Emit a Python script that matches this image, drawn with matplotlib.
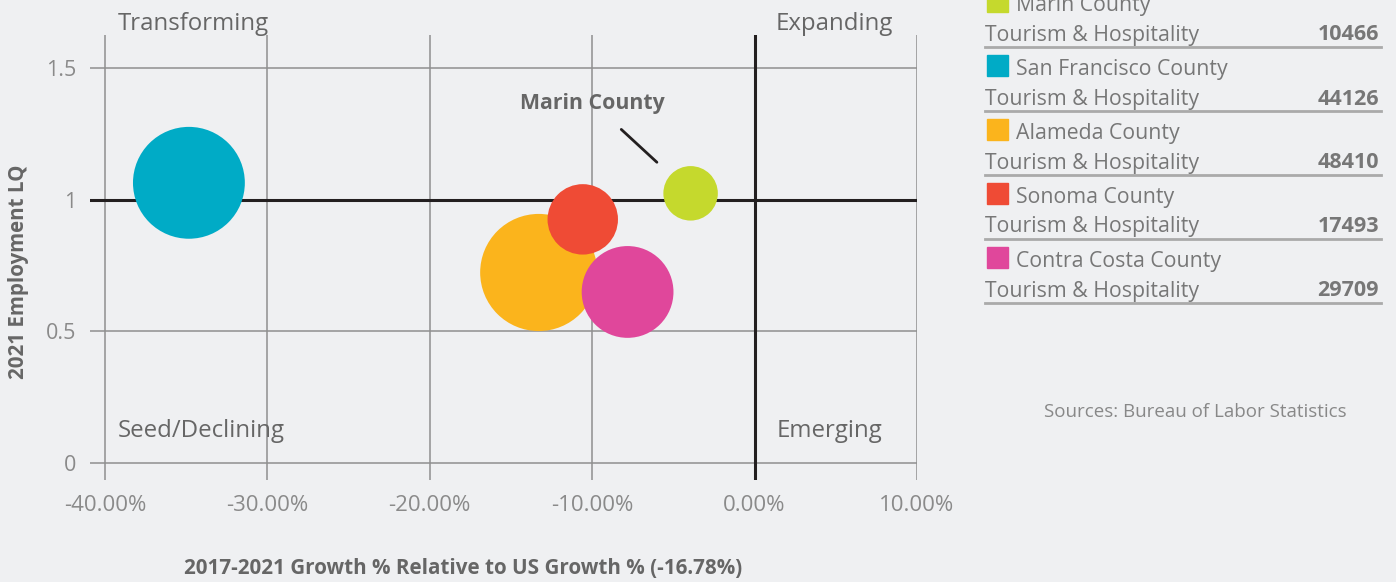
import numpy as np
import matplotlib.pyplot as plt

plt.rcParams['font.family'] = ['Open Sans', 'DejaVu Sans']

# data
counties = ['Marin County', 'San Francisco County', 'Alameda County',
            'Sonoma County', 'Contra Costa County']
industry = 'Tourism & Hospitality'
growth = [-3.94, -34.83, -13.29, -10.58, -7.82]    # % relative to US growth
lq = [1.025, 1.065, 0.724, 0.926, 0.650]           # 2021 employment LQ
employment = [10466, 44126, 48410, 17493, 29709]
colors = ['#c5d92d', '#00abc6', '#fbb41c', '#ef4b35', '#e0479b']

xticks = [-40, -30, -20, -10, 0, 10]
yticks = [0, 0.5, 1, 1.5]
ytick_labels = ['0', '0.5', '1', '1.5']

bg = '#eff0f2'
fig = plt.figure(figsize=(13.96, 5.82), dpi=100, facecolor=bg)
ax = fig.add_axes([90 / 1396, 1 - 480 / 582, 827 / 1396, 445 / 582])
ax.set_facecolor(bg)

ax.set_xlim(-40.92, 10)
ax.set_ylim(-0.065, 1.627)
for s in ax.spines.values():
    s.set_visible(False)

ax.set_xticks(xticks)
ax.set_xticklabels([f'{t:.2f}%' for t in xticks], fontsize=16, color='#8a8a8a')
ax.set_yticks(yticks)
ax.set_yticklabels(ytick_labels, fontsize=15.5, color='#8a8a8a')
ax.tick_params(length=0)
ax.tick_params(axis='x', pad=11)
ax.tick_params(axis='y', pad=10)
ax.grid(True, color='#8f8f8f', linewidth=1.1, zorder=0)
ax.set_axisbelow(True)

# quadrant dividers
ax.axhline(1, color='#231f20', linewidth=2.2, zorder=1)
ax.axvline(0, color='#231f20', linewidth=2.2, zorder=1)

sizes = np.array(employment) * 0.147
ax.scatter(growth, lq, s=sizes, c=colors, linewidths=0, zorder=3)

ax.annotate('Marin County', xy=(growth[0], lq[0]), xytext=(-70.5, 65),
            textcoords='offset points', ha='center', va='center',
            fontsize=15.3, fontweight='bold', color='#666666',
            arrowprops=dict(arrowstyle='-', color='#231f20', lw=2,
                            patchA=None, shrinkA=28, shrinkB=33))

qkw = dict(fontsize=17.3, color='#666666', transform=fig.transFigure)
fig.text(118 / 1396, 1 - 24 / 582, 'Transforming', ha='left', va='center', **qkw)
fig.text(893 / 1396, 1 - 24 / 582, 'Expanding', ha='right', va='center', **qkw)
fig.text(118 / 1396, 1 - 431 / 582, 'Seed/Declining', ha='left', va='center', **qkw)
fig.text(882 / 1396, 1 - 431 / 582, 'Emerging', ha='right', va='center', **qkw)

fig.text(19 / 1396, 1 - 272 / 582, '2021 Employment LQ', rotation=90,
         ha='center', va='center', fontsize=14.8, fontweight='bold', color='#666666')
fig.text(463 / 1396, 1 - 569 / 582,
         '2017-2021 Growth % Relative to US Growth % (-16.78%)',
         ha='center', va='center', fontsize=14.9, fontweight='bold', color='#666666')

# legend block on the right
for i, (name, val, col) in enumerate(zip(counties, employment, colors)):
    top = -9 + 64 * i
    fig.patches.append(plt.Rectangle((987 / 1396, 1 - (top + 21) / 582), 21 / 1396, 21 / 582,
                                     transform=fig.transFigure, color=col, figure=fig))
    fig.text(1016 / 1396, 1 - (top + 15) / 582, name, ha='left', va='center',
             fontsize=15.3, color='#777777')
    fig.text(985 / 1396, 1 - (top + 44) / 582, industry, ha='left', va='center',
             fontsize=15.3, color='#777777')
    fig.text(1379 / 1396, 1 - (top + 44) / 582, str(val), ha='right', va='center',
             fontsize=15.5, fontweight='bold', color='#777777')
    fig.add_artist(plt.Line2D([985 / 1396, 1381 / 1396], [1 - (top + 56) / 582] * 2,
                              transform=fig.transFigure, color='#aaaaaa', linewidth=2))

fig.text(1195 / 1396, 1 - 412 / 582, 'Sources: Bureau of Labor Statistics',
         ha='center', va='center', fontsize=13.5, color='#888888')

fig.savefig('out.png', dpi=100, facecolor=bg)
